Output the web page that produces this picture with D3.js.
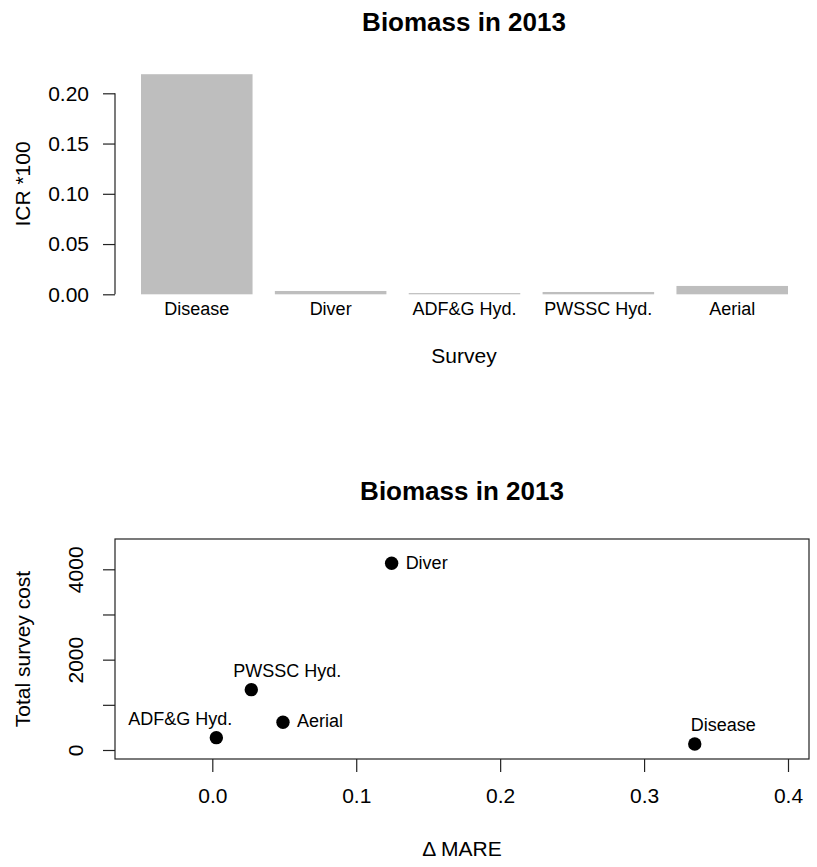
<!DOCTYPE html>
<html>
<head>
<meta charset="utf-8">
<script src="https://cdn.jsdelivr.net/npm/d3@7"></script>
<style>
  body { margin: 0; background: #fff; }
  svg { display: block; }
  text { font-family: "Liberation Sans", Arial, Helvetica, sans-serif; fill: #000; }
</style>
</head>
<body>
<svg id="chart" width="817" height="867"></svg>
<script>
// ---- Data ----
const chartTitle = "Biomass in 2013";
const surveys = ["Disease", "Diver", "ADF&G Hyd.", "PWSSC Hyd.", "Aerial"];
const icrValues = [0.219, 0.0033, 0.0012, 0.0023, 0.0083];
const icrTicks = [0, 0.05, 0.10, 0.15, 0.20];

const pointNames = ["Diver", "PWSSC Hyd.", "Aerial", "ADF&G Hyd.", "Disease"];
const deltaMARE = [0.1246, 0.0271, 0.0491, 0.0028, 0.3352];
const totalCost = [4135, 1336, 613, 273, 133];
const costTicks = [0, 1000, 2000, 3000, 4000];
const costTickLabels = ["0", "", "2000", "", "4000"];
const mareTicks = [0, 0.1, 0.2, 0.3, 0.4];

const svg = d3.select("#chart");
const axisColor = "#222";

// ---- Top: bar chart ----
const gTop = svg.append("g");
const xBar = d3.scaleBand().domain(surveys).range([141, 788]).paddingInner(0.2 / 1.2).paddingOuter(0);
const yBar = d3.scaleLinear().domain([0, 0.2]).range([294.3, 93.3]);

gTop.selectAll("rect.bar").data(surveys).join("rect")
  .attr("class", "bar")
  .attr("x", d => xBar(d))
  .attr("width", xBar.bandwidth())
  .attr("y", (d, i) => yBar(icrValues[i]))
  .attr("height", (d, i) => yBar(0) - yBar(icrValues[i]))
  .attr("fill", "#bebebe");

const yAxisTop = d3.axisLeft(yBar).tickValues(icrTicks).tickFormat(d3.format(".2f")).tickSize(12).tickPadding(14);
const gyTop = gTop.append("g").attr("transform", "translate(115,0)").call(yAxisTop);
gyTop.select(".domain").remove();
gyTop.append("line").attr("x1", 0).attr("x2", 0).attr("y1", yBar(0)).attr("y2", yBar(0.2)).attr("stroke", axisColor).attr("stroke-width", 1.2);
gyTop.selectAll(".tick line").attr("stroke", axisColor).attr("stroke-width", 1.2);
gyTop.selectAll(".tick text").attr("font-size", 21).attr("fill", "#000");
gyTop.attr("font-family", null);

gTop.selectAll("text.cat").data(surveys).join("text")
  .attr("class", "cat")
  .attr("x", d => xBar(d) + xBar.bandwidth() / 2)
  .attr("y", 309)
  .attr("text-anchor", "middle")
  .attr("dominant-baseline", "central")
  .attr("font-size", 18)
  .text(d => d);

gTop.append("text").attr("x", 464).attr("y", 355).attr("text-anchor", "middle")
  .attr("dominant-baseline", "central").attr("font-size", 21).text("Survey");
gTop.append("text").attr("transform", "translate(22,184) rotate(-90)").attr("text-anchor", "middle")
  .attr("dominant-baseline", "central").attr("font-size", 21).text("ICR *100");
gTop.append("text").attr("x", 464).attr("y", 22).attr("text-anchor", "middle")
  .attr("dominant-baseline", "central").attr("font-size", 26).attr("font-weight", "bold").text(chartTitle);

// ---- Bottom: scatter ----
const gBot = svg.append("g");
const xS = d3.scaleLinear().domain([0, 0.4]).range([212.3, 788]);
const yS = d3.scaleLinear().domain([0, 4000]).range([750, 569.3]);
const box = { left: 115, right: 809, top: 539, bottom: 759 };

gBot.append("rect").attr("x", box.left).attr("y", box.top)
  .attr("width", box.right - box.left).attr("height", box.bottom - box.top)
  .attr("fill", "none").attr("stroke", axisColor).attr("stroke-width", 1.2);

const xAxisB = d3.axisBottom(xS).tickValues(mareTicks).tickFormat(d3.format(".1f")).tickSize(13).tickPadding(16);
const gxB = gBot.append("g").attr("transform", `translate(0,${box.bottom})`).call(xAxisB);
gxB.select(".domain").remove();
gxB.selectAll(".tick line").attr("stroke", axisColor).attr("stroke-width", 1.2);
gxB.selectAll(".tick text").attr("font-size", 21).attr("fill", "#000");
gxB.attr("font-family", null);

const yAxisB = d3.axisLeft(yS).tickValues(costTicks).tickFormat((d, i) => costTickLabels[i]).tickSize(12);
const gyB = gBot.append("g").attr("transform", `translate(${box.left},0)`).call(yAxisB);
gyB.select(".domain").remove();
gyB.selectAll(".tick line").attr("stroke", axisColor).attr("stroke-width", 1.2);
gyB.selectAll(".tick text").attr("font-size", 21).attr("fill", "#000")
  .attr("x", null).attr("dy", null)
  .attr("transform", "translate(-40,0) rotate(-90)")
  .attr("text-anchor", "middle").attr("dominant-baseline", "central");
gyB.attr("font-family", null);

const pts = pointNames.map((n, i) => ({ name: n, x: deltaMARE[i], y: totalCost[i] }));
gBot.selectAll("circle.pt").data(pts).join("circle")
  .attr("class", "pt")
  .attr("cx", d => xS(d.x)).attr("cy", d => yS(d.y)).attr("r", 6.7).attr("fill", "#000");

// label placement (pixel offsets relative to point)
const labelPlace = {
  "Diver": { anchor: "start", dx: 14, dy: 0 },
  "Aerial": { anchor: "start", dx: 14, dy: -1 },
  "PWSSC Hyd.": { anchor: "middle", dx: 36, dy: -19 },
  "ADF&G Hyd.": { anchor: "middle", dx: -36, dy: -18.5 },
  "Disease": { anchor: "middle", dx: 28.5, dy: -19 }
};
gBot.selectAll("text.lbl").data(pts).join("text")
  .attr("class", "lbl")
  .attr("x", d => xS(d.x) + labelPlace[d.name].dx)
  .attr("y", d => yS(d.y) + labelPlace[d.name].dy)
  .attr("text-anchor", d => labelPlace[d.name].anchor)
  .attr("dominant-baseline", "central")
  .attr("font-size", 18)
  .text(d => d.name);

gBot.append("text").attr("x", 462).attr("y", 491).attr("text-anchor", "middle")
  .attr("dominant-baseline", "central").attr("font-size", 26).attr("font-weight", "bold").text(chartTitle);
gBot.append("text").attr("x", 462).attr("y", 848).attr("text-anchor", "middle")
  .attr("dominant-baseline", "central").attr("font-size", 21).text("\u0394 MARE");
gBot.append("text").attr("transform", `translate(22,${(box.top + box.bottom) / 2}) rotate(-90)`).attr("text-anchor", "middle")
  .attr("dominant-baseline", "central").attr("font-size", 21).text("Total survey cost");
</script>
</body>
</html>
